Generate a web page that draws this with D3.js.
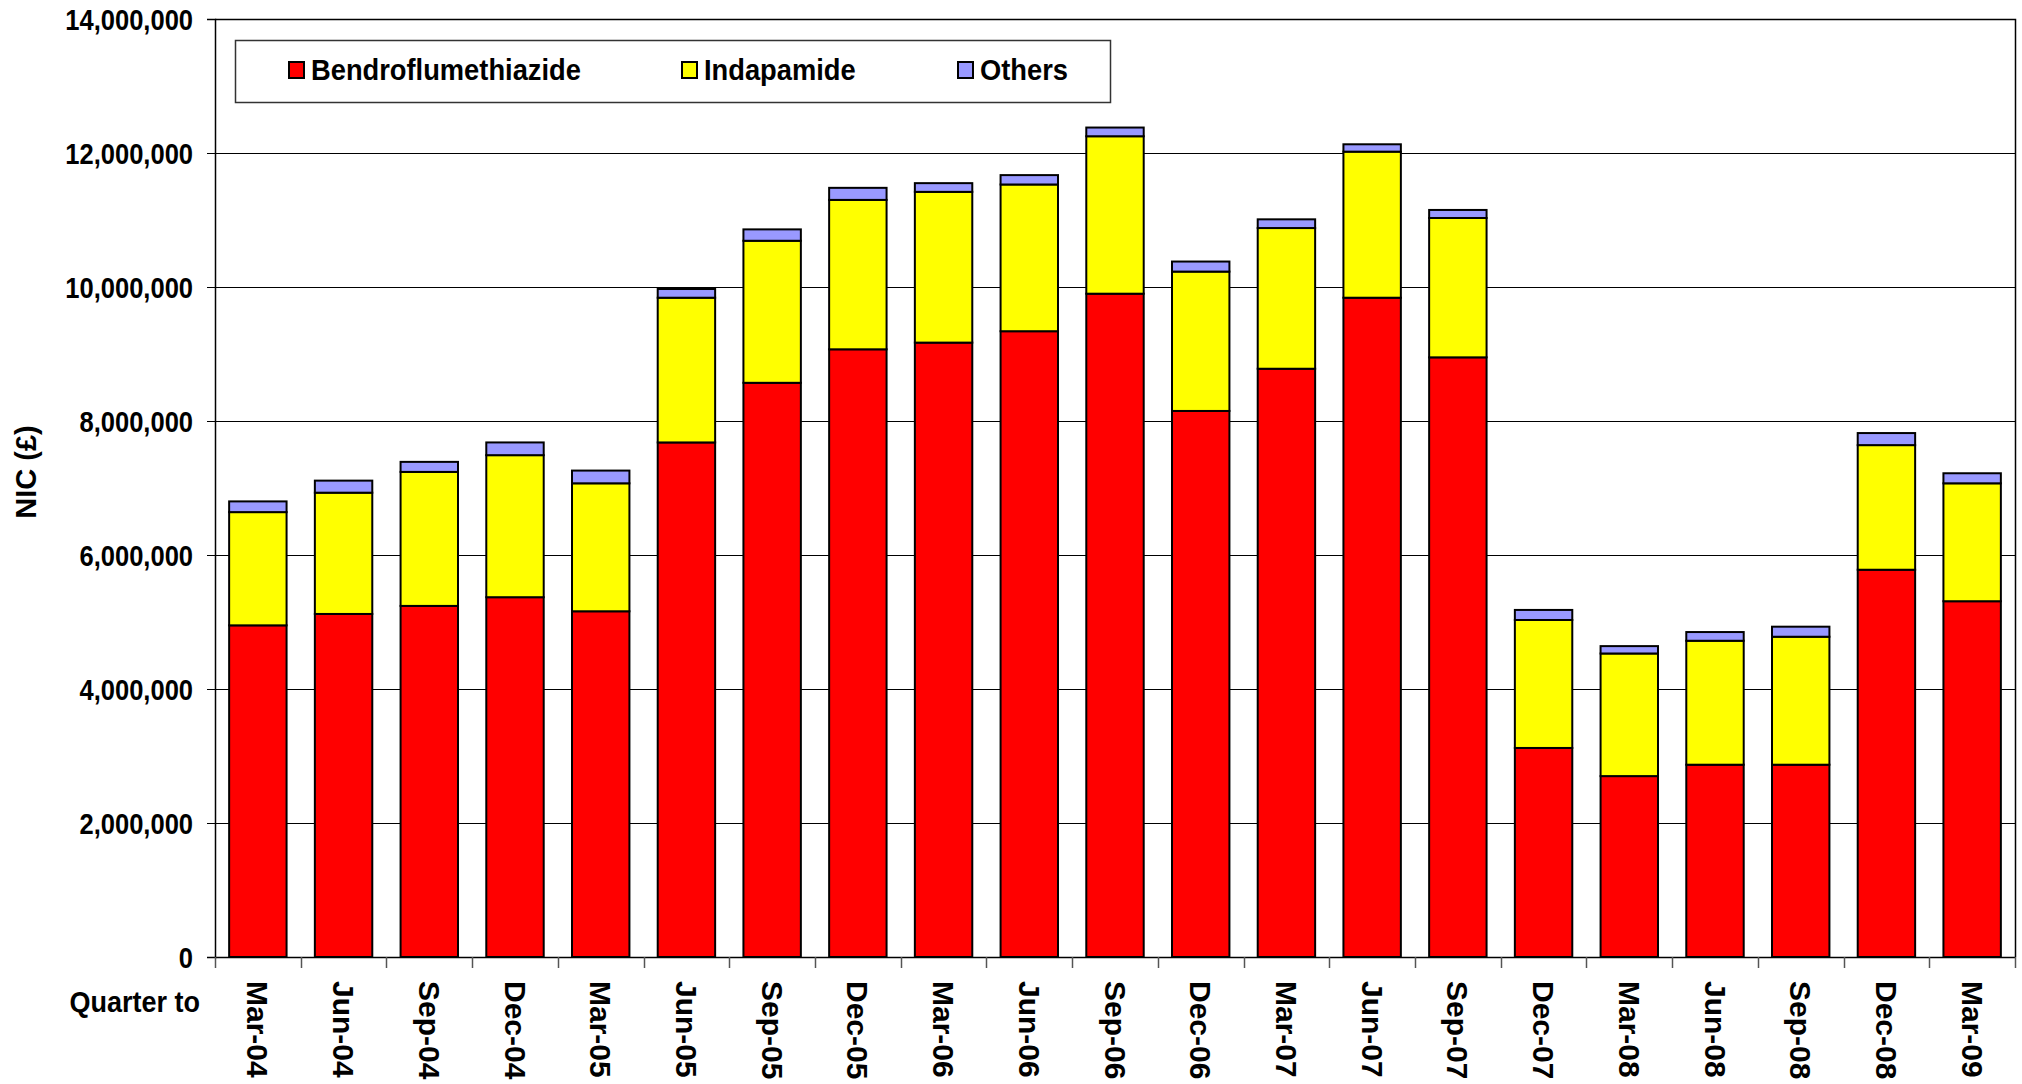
<!DOCTYPE html>
<html><head><meta charset="utf-8">
<script src="https://cdn.jsdelivr.net/npm/d3@7"></script>
<style>
html,body{margin:0;padding:0;background:#fff;}
svg{display:block;font-family:"Liberation Sans",Arial,sans-serif;font-weight:bold;}
</style></head>
<body>
<svg id="chart" width="2022" height="1084"></svg>
<script>
const categories = ["Mar-04","Jun-04","Sep-04","Dec-04","Mar-05","Jun-05","Sep-05","Dec-05","Mar-06","Jun-06","Sep-06","Dec-06","Mar-07","Jun-07","Sep-07","Dec-07","Mar-08","Jun-08","Sep-08","Dec-08","Mar-09"];
const bendroflumethiazide = [4950000,5120000,5240000,5370000,5160000,7680000,8570000,9070000,9170000,9340000,9900000,8150000,8780000,9840000,8950000,3120000,2700000,2870000,2870000,5780000,5310000];
const indapamide = [1690000,1810000,2000000,2120000,1910000,2160000,2120000,2230000,2250000,2190000,2350000,2080000,2100000,2180000,2080000,1910000,1830000,1850000,1910000,1860000,1760000];
const others = [160000,180000,150000,190000,190000,130000,170000,180000,130000,140000,130000,150000,130000,110000,120000,150000,110000,130000,150000,180000,150000];
const seriesNames = ["Bendroflumethiazide","Indapamide","Others"];
const seriesColors = ["#FF0000","#FFFF00","#9999FF"];
const yTicks = [0,2000000,4000000,6000000,8000000,10000000,12000000,14000000];

const svg = d3.select("#chart");
const L = 215, R = 2015, T = 19, B = 957;

const x = d3.scaleBand().domain(categories).range([L, R]).paddingInner(0.33).paddingOuter(0.165);
const y = d3.scaleLinear().domain([0, 14000000]).range([B, T]);

const rows = categories.map((c, i) => ({cat: c, Bendroflumethiazide: bendroflumethiazide[i], Indapamide: indapamide[i], Others: others[i]}));
const stacked = d3.stack().keys(seriesNames)(rows);

// gridlines
svg.append("g").selectAll("line").data(yTicks.filter(d => d > 0 && d < 14000000)).join("line")
  .attr("x1", L).attr("x2", R).attr("y1", d => Math.round(y(d)) + 0.5).attr("y2", d => Math.round(y(d)) + 0.5)
  .attr("stroke", "#000").attr("stroke-width", 1);
// plot border top/right
svg.append("path").attr("d", `M${L},${T+0.5}H${R+0.5}V${B}`).attr("fill", "none").attr("stroke", "#000").attr("stroke-width", 1.5);

// bars
stacked.forEach((s, si) => {
  svg.append("g").selectAll("rect").data(s).join("rect")
    .attr("x", d => x(d.data.cat))
    .attr("width", x.bandwidth())
    .attr("y", d => y(d[1]))
    .attr("height", d => y(d[0]) - y(d[1]))
    .attr("fill", seriesColors[si])
    .attr("stroke", "#000").attr("stroke-width", 2);
});

// y axis
const yAxis = svg.append("g").attr("transform", `translate(${L},0)`)
  .call(d3.axisLeft(y).tickValues(yTicks).tickFormat(d3.format(",")).tickSizeOuter(0).tickSize(8).tickPadding(0));
yAxis.select(".domain").attr("stroke", "#000").attr("stroke-width", 1.5);
yAxis.selectAll(".tick line").attr("stroke", "#000").attr("stroke-width", 1);
yAxis.selectAll(".tick text").attr("font-size", 29).attr("font-family", '"Liberation Sans",Arial,sans-serif')
  .attr("font-weight", "bold").attr("fill", "#000")
  .attr("x", -22 / 0.88).attr("dy", "0.36em").attr("transform", "scale(0.88,1)");

// x axis line
svg.append("line").attr("x1", L).attr("x2", R).attr("y1", B + 0.5).attr("y2", B + 0.5).attr("stroke", "#000").attr("stroke-width", 1.5);
// x tick marks at band boundaries
const step = x.step();
const bounds = d3.range(categories.length + 1).map(i => L + i * (R - L) / categories.length);
svg.append("g").selectAll("line").data(bounds).join("line")
  .attr("x1", d => Math.round(d) + 0.5).attr("x2", d => Math.round(d) + 0.5)
  .attr("y1", B).attr("y2", B + 11).attr("stroke", "#555").attr("stroke-width", 1.5);

// x labels
svg.append("g").selectAll("text").data(categories).join("text")
  .attr("transform", d => `translate(${x(d) + x.bandwidth() / 2},${B + 24}) rotate(90)`)
  .attr("dy", "0.35em").attr("text-anchor", "start")
  .attr("font-size", 30).attr("fill", "#000").text(d => d);

// "Quarter to"
svg.append("text").attr("transform", `translate(200,1012) scale(0.9,1)`).attr("text-anchor", "end")
  .attr("font-size", 30).attr("fill", "#000").text("Quarter to");

// y title
svg.append("text").attr("transform", `translate(26,472) rotate(-90)`).attr("text-anchor", "middle")
  .attr("dy", "0.35em").attr("font-size", 29).attr("fill", "#000").text("NIC (£)");

// legend
const lg = svg.append("g");
lg.append("rect").attr("x", 235.5).attr("y", 40.5).attr("width", 875).attr("height", 62)
  .attr("fill", "#fff").attr("stroke", "#333").attr("stroke-width", 1.5);
const legendX = [289, 682, 958];
seriesNames.forEach((n, i) => {
  lg.append("rect").attr("x", legendX[i]).attr("y", 62).attr("width", 15).attr("height", 16)
    .attr("fill", seriesColors[i]).attr("stroke", "#000").attr("stroke-width", 2);
  lg.append("text").attr("transform", `translate(${legendX[i] + 22},80) scale(0.91,1)`)
    .attr("font-size", 30).attr("fill", "#000").text(n);
});
</script>
</body></html>
